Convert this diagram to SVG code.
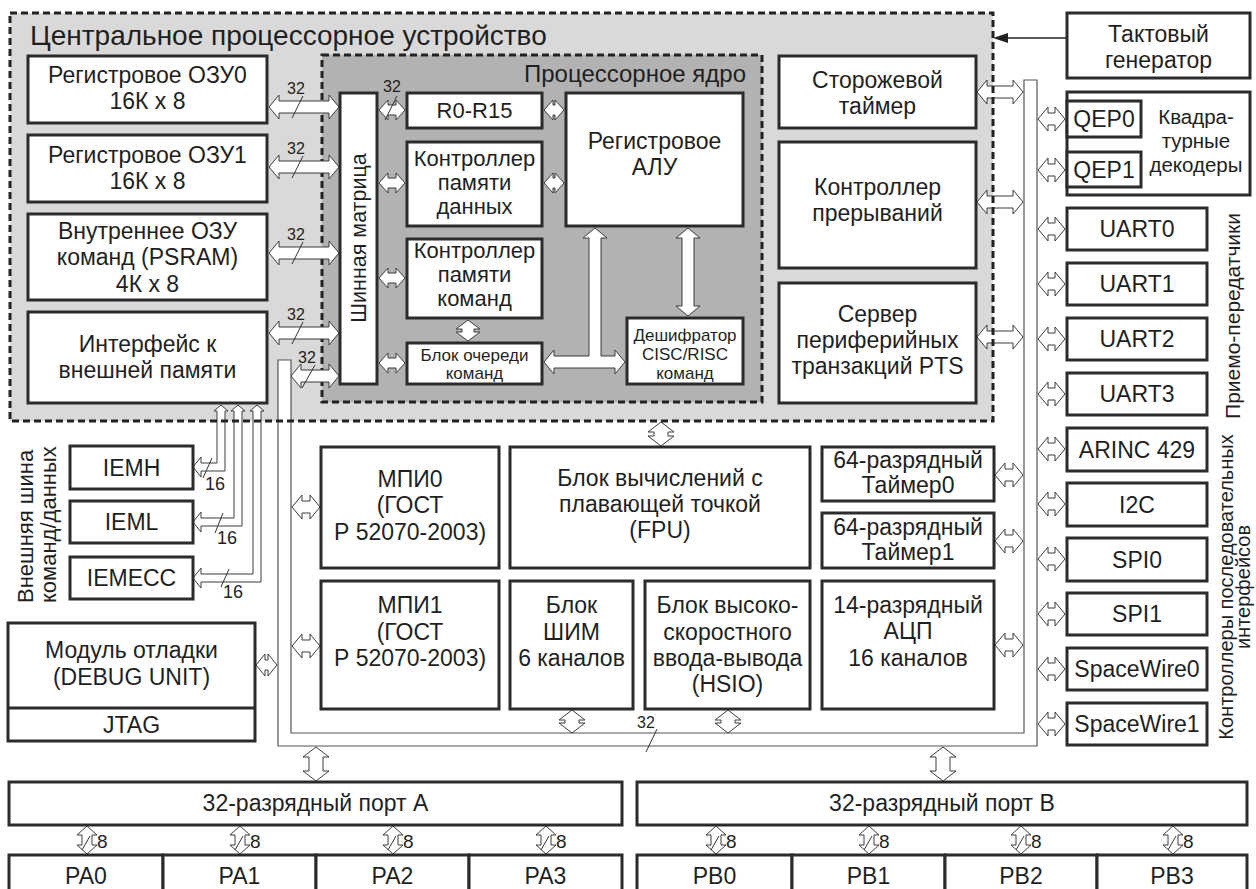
<svg xmlns="http://www.w3.org/2000/svg" width="1256" height="889" viewBox="0 0 1256 889">
<style>
.box{fill:#fff;stroke:#2b2b2b;stroke-width:3}
.t{font-family:"Liberation Sans",Arial,sans-serif;fill:#1f1f1f;text-anchor:middle;font-size:23px}
.s22{font-size:22px}
.s17{font-size:17px}
.lbl{font-family:"Liberation Sans",Arial,sans-serif;fill:#1f1f1f;font-size:16px}
.l8{font-family:"Liberation Sans",Arial,sans-serif;fill:#1f1f1f;font-size:19px}
.arr{fill:#fff;stroke:#3c3c3c;stroke-width:1}
.bus{fill:#fff;stroke:#555;stroke-width:1.2}
.sl{stroke:#333;stroke-width:1;fill:none}
.dash{fill:none;stroke:#222;stroke-width:3;stroke-dasharray:7 4}
</style>
<defs>
<polygon id="aM" class="arr" points="269,0 279,-12 279,-6 329,-6 329,-12 339,0 329,12 329,6 279,6 279,12"/>
<polygon id="aC" class="arr" points="379,0 388,-10 388,-5 396,-5 396,-10 405,0 396,10 396,5 388,5 388,10"/>
<polygon id="aA" class="arr" points="544,0 553,-10 553,-5 555,-5 555,-10 564,0 555,10 555,5 553,5 553,10"/>
<polygon id="aL" class="arr" points="977,0 987,-12 987,-6 1013,-6 1013,-12 1023,0 1013,12 1013,6 987,6 987,12"/>
<polygon id="aT" class="arr" points="995,0 1005,-12 1005,-6 1013,-6 1013,-12 1023,0 1013,12 1013,6 1005,6 1005,12"/>
<polygon id="aR" class="arr" points="1038,0 1048,-12 1048,-6 1055,-6 1055,-12 1065,0 1055,12 1055,6 1048,6 1048,12"/>
<polygon id="aB" class="arr" points="292,0 302,-12 302,-6 310,-6 310,-12 320,0 310,12 310,6 302,6 302,12"/>
<g id="aP">
<polygon class="arr" points="0,826 10,835 5,835 5,845 10,845 0,854 -10,845 -5,845 -5,835 -10,835"/>
<line class="sl" x1="-5" y1="850" x2="3" y2="836"/>
<text class="l8" x="10" y="848">8</text>
</g>
</defs>
<rect width="1256" height="889" fill="#fff"/>

<g id="cpu">
<rect x="10" y="13" width="983" height="408" fill="#d9d9d9"/>
<text class="t" style="text-anchor:start;font-size:28px" x="30" y="45">Центральное процессорное устройство</text>
</g>
<g id="core">
<rect x="322" y="55" width="440" height="347" class="dash" style="fill:#b2b2b2"/>
<text class="t" style="text-anchor:end;font-size:24px" x="746" y="82">Процессорное ядро</text>
</g>

<g id="connectors">
<polygon class="bus" points="278,360 291,360 291,733 1024,733 1024,80 1037,80 1037,746 278,746"/>
<use href="#aM" y="107"/><use href="#aM" y="167"/><use href="#aM" y="253"/><use href="#aM" y="333"/>
<polygon class="arr" points="291,376 301,364 301,370 329,370 329,364 339,376 329,388 329,382 301,382 301,388"/>
<use href="#aC" y="110"/><use href="#aC" y="183"/><use href="#aC" y="278"/><use href="#aC" y="363"/>
<use href="#aA" y="110"/><use href="#aA" y="183"/>
<polygon class="arr" points="468,320 480,329 474,329 474,332 480,332 468,341 456,332 462,332 462,329 456,329"/>
<polygon class="arr" points="688,228 700,238 694,238 694,306 700,306 688,316 676,306 682,306 682,238 676,238"/>
<polygon class="arr" points="544,362 554,350 554,356 589,356 589,238 583,238 595,228 607,238 601,238 601,356 615,356 615,350 625,362 615,374 615,368 554,368 554,374"/>
<use href="#aL" y="92"/><use href="#aL" y="202"/><use href="#aL" y="337"/>
<use href="#aT" y="475"/><use href="#aT" y="541"/><use href="#aT" y="645"/>
<use href="#aR" y="119"/><use href="#aR" y="170"/><use href="#aR" y="229"/><use href="#aR" y="284"/><use href="#aR" y="339"/><use href="#aR" y="394"/>
<use href="#aR" y="449"/><use href="#aR" y="504"/><use href="#aR" y="559"/><use href="#aR" y="614"/><use href="#aR" y="669"/><use href="#aR" y="724"/>
<use href="#aB" y="507"/><use href="#aB" y="646"/>
<polygon class="arr" points="256,665 265,654 265,660 268,660 268,654 277,665 268,676 268,670 265,670 265,676"/>
<polygon class="arr" points="661,422 674,432 668,432 668,436 674,436 661,446 648,436 654,436 654,432 648,432"/>
<polygon class="arr" points="572,710 585,720 579,720 579,723 585,723 572,733 559,723 565,723 565,720 559,720"/>
<polygon class="arr" points="728,710 741,720 735,720 735,723 741,723 728,733 715,723 721,723 721,720 715,720"/>
<polygon class="arr" points="316,747 329,757 323,757 323,771 329,771 316,781 303,771 309,771 309,757 303,757"/>
<polygon class="arr" points="943,747 956,757 950,757 950,771 956,771 943,781 930,771 936,771 936,757 930,757"/>
<polygon class="arr" points="221,405 228,411 225,411 225,471 201,471 201,477 193,467 201,457 201,463 217,463 217,411 214,411"/>
<polygon class="arr" points="238,405 245,411 242,411 242,526 201,526 201,532 193,522 201,512 201,518 234,518 234,411 231,411"/>
<polygon class="arr" points="257,405 264,411 261,411 261,582 201,582 201,588 193,578 201,568 201,574 253,574 253,411 250,411"/>
<line x1="1007" y1="38" x2="1066" y2="38" stroke="#222" stroke-width="1.5"/>
<polygon points="993,38 1008,33 1008,43" fill="#222"/>
<line class="sl" x1="292" y1="118" x2="303" y2="96"/><text class="lbl" x="287" y="94">32</text>
<line class="sl" x1="292" y1="178" x2="303" y2="156"/><text class="lbl" x="287" y="154">32</text>
<line class="sl" x1="292" y1="264" x2="303" y2="242"/><text class="lbl" x="287" y="240">32</text>
<line class="sl" x1="292" y1="344" x2="303" y2="322"/><text class="lbl" x="287" y="320">32</text>
<line class="sl" x1="302" y1="388" x2="315" y2="365"/><text class="lbl" x="298" y="363">32</text>
<line class="sl" x1="385" y1="120" x2="397" y2="96"/><text class="lbl" x="383" y="92">32</text>
<line class="sl" x1="646" y1="752" x2="657" y2="729"/><text class="lbl" x="637" y="728">32</text>
<line class="sl" x1="203" y1="478" x2="212" y2="458"/><text class="l8" style="font-size:18px" x="205" y="490">16</text>
<line class="sl" x1="215" y1="533" x2="223" y2="513"/><text class="l8" style="font-size:18px" x="217" y="544">16</text>
<line class="sl" x1="221" y1="587" x2="229" y2="569"/><text class="l8" style="font-size:18px" x="223" y="598">16</text>
<use href="#aP" x="87"/><use href="#aP" x="240"/><use href="#aP" x="393"/><use href="#aP" x="546"/>
<use href="#aP" x="716"/><use href="#aP" x="869"/><use href="#aP" x="1021"/><use href="#aP" x="1173"/>
</g>

<rect x="10" y="13" width="983" height="408" class="dash"/>

<g id="ram0"><rect class="box" x="28" y="56" width="239" height="67"/><text class="t" x="147.5" y="83">Регистровое ОЗУ0</text><text class="t" x="147.5" y="109">16К x 8</text></g>
<g id="ram1"><rect class="box" x="28" y="135" width="239" height="67"/><text class="t" x="147.5" y="163">Регистровое ОЗУ1</text><text class="t" x="147.5" y="189">16К x 8</text></g>
<g id="psram"><rect class="box" x="28" y="214" width="239" height="86"/><text class="t" x="147.5" y="239">Внутреннее ОЗУ</text><text class="t" x="147.5" y="265">команд (PSRAM)</text><text class="t" x="147.5" y="292">4К x 8</text></g>
<g id="extmem"><rect class="box" x="28" y="312" width="239" height="91"/><text class="t" x="147.5" y="352">Интерфейс к</text><text class="t" x="147.5" y="378">внешней памяти</text></g>
<g id="busmatrix"><rect class="box" x="340" y="93" width="37" height="291"/><text class="t" style="font-size:21.5px" transform="translate(366,238) rotate(-90)">Шинная матрица</text></g>
<g id="regs"><rect class="box" x="407" y="93" width="135" height="35"/><text class="t s22" x="474.5" y="118">R0-R15</text></g>
<g id="dmc"><rect class="box" x="407" y="142" width="135" height="84"/><text class="t s22" x="474.5" y="166">Контроллер</text><text class="t s22" x="474.5" y="190">памяти</text><text class="t s22" x="474.5" y="214">данных</text></g>
<g id="imc"><rect class="box" x="407" y="239" width="135" height="79"/><text class="t s22" x="474.5" y="258">Контроллер</text><text class="t s22" x="474.5" y="282">памяти</text><text class="t s22" x="474.5" y="306">команд</text></g>
<g id="queue"><rect class="box" x="407" y="343" width="135" height="41"/><text class="t s17" x="474.5" y="361">Блок очереди</text><text class="t s17" x="474.5" y="379">команд</text></g>
<g id="alu"><rect class="box" x="566" y="93" width="177" height="133"/><text class="t" x="654.5" y="149">Регистровое</text><text class="t" x="654.5" y="175">АЛУ</text></g>
<g id="decoder"><rect class="box" x="627" y="318" width="116" height="66"/><text class="t s17" x="685" y="341">Дешифратор</text><text class="t s17" x="685" y="360">CISC/RISC</text><text class="t s17" x="685" y="379">команд</text></g>

<g id="wdt"><rect class="box" x="779" y="56" width="197" height="72"/><text class="t" x="877.5" y="88">Сторожевой</text><text class="t" x="877.5" y="114">таймер</text></g>
<g id="intc"><rect class="box" x="779" y="142" width="197" height="126"/><text class="t" x="877.5" y="195">Контроллер</text><text class="t" x="877.5" y="221">прерываний</text></g>
<g id="pts"><rect class="box" x="779" y="283" width="197" height="120"/><text class="t" x="877.5" y="322">Сервер</text><text class="t" x="877.5" y="348">периферийных</text><text class="t" x="877.5" y="374">транзакций PTS</text></g>
<g id="clk"><rect class="box" x="1067" y="13" width="183" height="65"/><text class="t" x="1158.5" y="42">Тактовый</text><text class="t" x="1158.5" y="68">генератор</text></g>
<g id="qep"><rect class="box" x="1067" y="92" width="183" height="103"/><text class="t" style="font-size:20.5px" x="1196" y="124">Квадра-</text><text class="t" style="font-size:20.5px" x="1196" y="148">турные</text><text class="t" style="font-size:20.5px" x="1196" y="172">декодеры</text></g>
<g id="qep0"><rect class="box" x="1067" y="101" width="74" height="36"/><text class="t" x="1104" y="127">QEP0</text></g>
<g id="qep1"><rect class="box" x="1067" y="152" width="74" height="35"/><text class="t" x="1104" y="178">QEP1</text></g>
<g id="uart0"><rect class="box" x="1067" y="208" width="140" height="42"/><text class="t" x="1137" y="237">UART0</text></g>
<g id="uart1"><rect class="box" x="1067" y="263" width="140" height="42"/><text class="t" x="1137" y="292">UART1</text></g>
<g id="uart2"><rect class="box" x="1067" y="318" width="140" height="42"/><text class="t" x="1137" y="347">UART2</text></g>
<g id="uart3"><rect class="box" x="1067" y="373" width="140" height="42"/><text class="t" x="1137" y="402">UART3</text></g>
<g id="arinc"><rect class="box" x="1067" y="428" width="140" height="43"/><text class="t" x="1137" y="458">ARINC 429</text></g>
<g id="i2c"><rect class="box" x="1067" y="483" width="140" height="43"/><text class="t" x="1137" y="513">I2C</text></g>
<g id="spi0"><rect class="box" x="1067" y="538" width="140" height="43"/><text class="t" x="1137" y="568">SPI0</text></g>
<g id="spi1"><rect class="box" x="1067" y="593" width="140" height="42"/><text class="t" x="1137" y="622">SPI1</text></g>
<g id="sw0"><rect class="box" x="1067" y="648" width="140" height="42"/><text class="t" x="1137" y="677">SpaceWire0</text></g>
<g id="sw1"><rect class="box" x="1067" y="703" width="140" height="42"/><text class="t" x="1137" y="732">SpaceWire1</text></g>
<g id="labels-right">
<text class="t" style="font-size:21px" transform="translate(1240,316) rotate(-90)">Приемо-передатчики</text>
<text class="t" style="font-size:20px" transform="translate(1233,587) rotate(-90)">Контроллеры последовательных</text>
<text class="t" style="font-size:20px" transform="translate(1250,587) rotate(-90)">интерфейсов</text>
</g>

<g id="iemh"><rect class="box" x="70" y="446" width="123" height="43"/><text class="t" x="131.5" y="476">IEMH</text></g>
<g id="ieml"><rect class="box" x="70" y="501" width="123" height="42"/><text class="t" x="131.5" y="530">IEML</text></g>
<g id="iemecc"><rect class="box" x="70" y="557" width="123" height="42"/><text class="t" x="131.5" y="586">IEMECC</text></g>
<g id="label-ext">
<text class="t" style="font-size:22px;text-anchor:start" transform="translate(33,603) rotate(-90)">Внешняя шина</text>
<text class="t" style="font-size:22px;text-anchor:start" transform="translate(56,603) rotate(-90)">команд/данных</text>
</g>
<g id="debug"><rect class="box" x="8" y="623" width="247" height="118"/><line x1="8" y1="708" x2="255" y2="708" stroke="#2b2b2b" stroke-width="3"/><text class="t" x="131.5" y="658">Модуль отладки</text><text class="t" x="131.5" y="685">(DEBUG UNIT)</text><text class="t" x="131.5" y="733">JTAG</text></g>

<g id="mpi0"><rect class="box" x="321" y="447" width="178" height="121"/><text class="t" x="410" y="487">МПИ0</text><text class="t" x="410" y="513">(ГОСТ</text><text class="t" x="410" y="540">Р 52070-2003)</text></g>
<g id="fpu"><rect class="box" x="510" y="447" width="300" height="121"/><text class="t" x="660" y="486">Блок вычислений с</text><text class="t" x="660" y="512">плавающей точкой</text><text class="t" x="660" y="538">(FPU)</text></g>
<g id="tmr0"><rect class="box" x="822" y="447" width="172" height="54"/><text class="t" x="908" y="468">64-разрядный</text><text class="t" x="908" y="493">Таймер0</text></g>
<g id="tmr1"><rect class="box" x="822" y="513" width="172" height="55"/><text class="t" x="908" y="535">64-разрядный</text><text class="t" x="908" y="560">Таймер1</text></g>
<g id="mpi1"><rect class="box" x="321" y="581" width="178" height="128"/><text class="t" x="410" y="613">МПИ1</text><text class="t" x="410" y="640">(ГОСТ</text><text class="t" x="410" y="666">Р 52070-2003)</text></g>
<g id="pwm"><rect class="box" x="510" y="581" width="123" height="128"/><text class="t" x="571.5" y="613">Блок</text><text class="t" x="571.5" y="640">ШИМ</text><text class="t" x="571.5" y="666">6 каналов</text></g>
<g id="hsio"><rect class="box" x="645" y="581" width="165" height="128"/><text class="t" x="727.5" y="613">Блок высоко-</text><text class="t" x="727.5" y="640">скоростного</text><text class="t" x="727.5" y="666">ввода-вывода</text><text class="t" x="727.5" y="692">(HSIO)</text></g>
<g id="adc"><rect class="box" x="822" y="581" width="172" height="128"/><text class="t" x="908" y="613">14-разрядный</text><text class="t" x="908" y="639">АЦП</text><text class="t" x="908" y="666">16 каналов</text></g>

<g id="portA"><rect class="box" x="9" y="782" width="613" height="43"/><text class="t" x="315.5" y="811">32-разрядный порт A</text></g>
<g id="portB"><rect class="box" x="637" y="782" width="610" height="43"/><text class="t" x="942" y="811">32-разрядный порт B</text></g>
<g id="pa0"><rect class="box" x="9" y="855" width="154" height="40"/><text class="t" x="86" y="884">PA0</text></g>
<g id="pa1"><rect class="box" x="163" y="855" width="153" height="40"/><text class="t" x="239.5" y="884">PA1</text></g>
<g id="pa2"><rect class="box" x="316" y="855" width="153" height="40"/><text class="t" x="392.5" y="884">PA2</text></g>
<g id="pa3"><rect class="box" x="469" y="855" width="153" height="40"/><text class="t" x="545.5" y="884">PA3</text></g>
<g id="pb0"><rect class="box" x="637" y="855" width="155" height="40"/><text class="t" x="714.5" y="884">PB0</text></g>
<g id="pb1"><rect class="box" x="792" y="855" width="153" height="40"/><text class="t" x="868.5" y="884">PB1</text></g>
<g id="pb2"><rect class="box" x="945" y="855" width="152" height="40"/><text class="t" x="1021" y="884">PB2</text></g>
<g id="pb3"><rect class="box" x="1097" y="855" width="150" height="40"/><text class="t" x="1172" y="884">PB3</text></g>
</svg>
